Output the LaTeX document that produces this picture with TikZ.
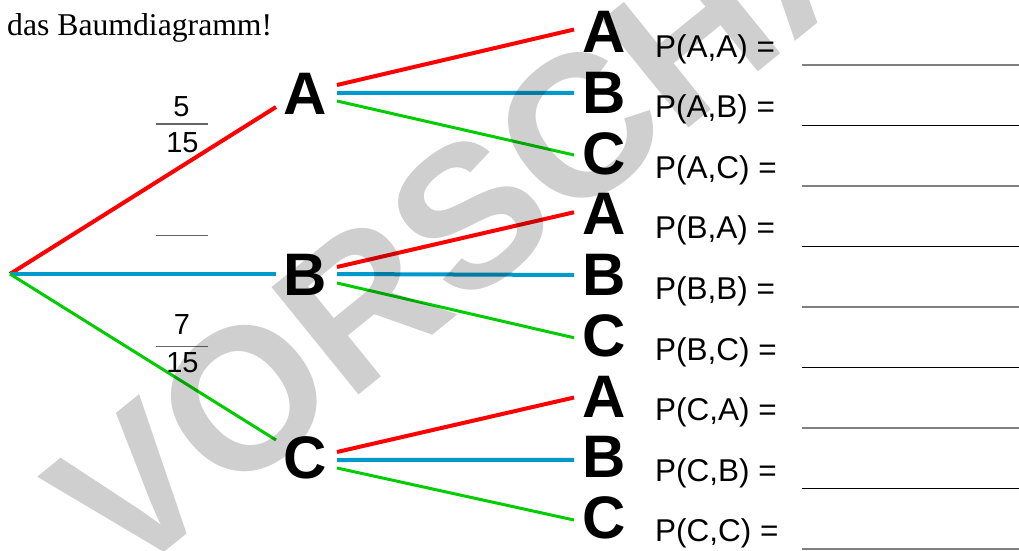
\documentclass[tikz,border=0pt]{standalone}
\usepackage{fontspec}
\setmainfont{Liberation Serif}
\newfontfamily\arialf{Liberation Sans}
\usetikzlibrary{calc}
\definecolor{tred}{RGB}{255,0,0}
\definecolor{tblue}{RGB}{0,153,204}
\definecolor{tgreen}{RGB}{0,204,0}
\begin{document}
\begin{tikzpicture}[x=1pt,y=-1pt,
  letter/.style={inner sep=0pt, font=\arialf\bfseries\fontsize{60}{60}\selectfont},
  fracnum/.style={inner sep=0pt, font=\arialf\fontsize{29}{29}\selectfont},
  plabel/.style={inner sep=0pt, anchor=base west, font=\arialf\fontsize{31.5}{31.5}\selectfont},
  redline/.style={draw=tred, line width=4pt},
  blueline/.style={draw=tblue, line width=4pt},
  greenline/.style={draw=tgreen, line width=3pt},
  fracbar/.style={draw=black!60, line width=1.3pt},
  blankgray/.style={draw=black!50, line width=1.6pt},
  blankblack/.style={draw=black, line width=1pt},
  watermark/.style={inner sep=0pt, anchor=base west, rotate=39, text=black, text opacity=0.19,
    font=\arialf\bfseries\fontsize{201}{201}\selectfont}]
\useasboundingbox (0,0) rectangle (1019,550);

\node[anchor=base west, inner sep=0pt, font=\fontsize{31.7}{38}\selectfont] (title) at (7,35) {das Baumdiagramm!};

% tree nodes
\coordinate (root) at (10,274);
\node[letter] (A1) at (305,93.5) {A};
\node[letter] (B1) at (305,275) {B};
\node[letter] (C1) at (305,457.5) {C};
\foreach \k/\t in {0/A,1/B,2/C,3/A,4/B,5/C,6/A,7/B,8/C}
  \node[letter] (L\k) at (604.5,{32+60.75*\k}) {\t};

% first level
\draw[redline]   (root) -- ($(A1)+(-29,13.5)$);
\draw[blueline]  (root) -- ($(B1)+(-29,-1)$);
\draw[greenline] (root) -- ($(C1)+(-29,-17.5)$);

% second level
\draw[redline]   ($(A1)+(32,-8.5)$) -- ($(L0)+(-30.5,-2.5)$);
\draw[blueline]  ($(A1)+(32,-0.5)$) -- ($(L1)+(-30.5,0)$);
\draw[greenline] ($(A1)+(32,7.5)$)  -- ($(L2)+(-30.5,1.5)$);
\draw[redline]   ($(B1)+(32,-8)$)   -- ($(L3)+(-30.5,-2)$);
\draw[blueline]  ($(B1)+(32,-1)$)   -- ($(L4)+(-30.5,0)$);
\draw[greenline] ($(B1)+(32,8)$)    -- ($(L5)+(-30.5,2)$);
\draw[redline]   ($(C1)+(32,-5.5)$) -- ($(L6)+(-30.5,1)$);
\draw[blueline]  ($(C1)+(32,2.5)$)  -- ($(L7)+(-30.5,2.5)$);
\draw[greenline] ($(C1)+(32,10.5)$) -- ($(L8)+(-30.5,2)$);

% fractions
\node[fracnum] (n1) at (181.5,107) {5};
\node[fracnum] (d1) at (182.5,142.5) {15};
\draw[fracbar] (156,124) -- (208,124);
\draw[fracbar] (156,235.7) -- (208,235.7);
\node[fracnum] (n3) at (182,325) {7};
\node[fracnum] (d3) at (182.5,363) {15};
\draw[fracbar] (156,346.7) -- (208,346.7);

% probability labels
\foreach \k/\a/\b in {0/A/A,1/A/B,2/A/C,3/B/A,4/B/B,5/B/C,6/C/A,7/C/B,8/C/C}
  \node[plabel] (P\k) at (655,{57+60.6*\k}) {P(\a,\b) =};

% answer blanks
\foreach \k in {0,2,4,6,8}
  \draw[blankgray] (802,{65+60.5*\k}) -- (1019,{65+60.5*\k});
\foreach \k in {1,3,5,7}
  \draw[blankblack] (802,{65+60.5*\k}) -- (1019,{65+60.5*\k});

% watermark
\node[watermark] (wm) at (123,586) {VORSCHAU};
\end{tikzpicture}
\end{document}
